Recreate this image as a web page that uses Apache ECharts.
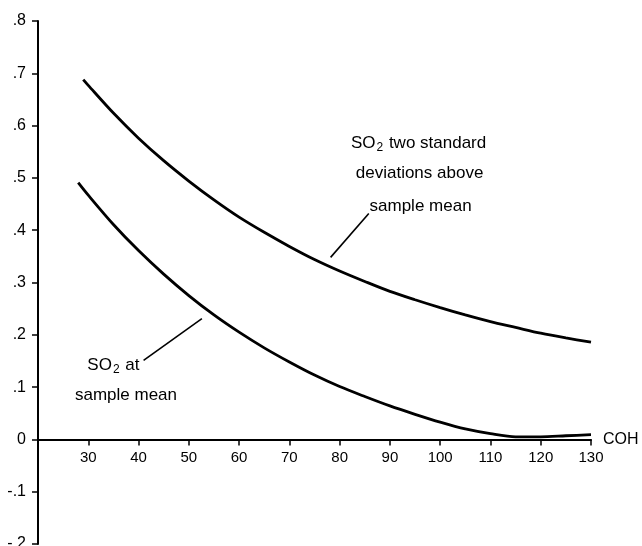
<!DOCTYPE html>
<html>
<head>
<meta charset="utf-8">
<script src="https://cdn.jsdelivr.net/npm/echarts@6/dist/echarts.min.js"></script>
<style>html,body{margin:0;padding:0;background:#fff}#c{width:642px;height:546px}</style>
</head>
<body>
<div id="c"></div>
<script>
// x tick labels (COH)
var xTicks = [30, 40, 50, 60, 70, 80, 90, 100, 110, 120, 130];
// SO2 two standard deviations above sample mean
var upperX = [29, 30, 35, 40, 45, 50, 55, 60, 65, 70, 75, 80, 85, 90, 95, 100, 105, 110, 115, 120, 125, 130];
var upperY = [0.688, 0.677, 0.624, 0.576, 0.533, 0.494, 0.458, 0.425, 0.396, 0.369, 0.344, 0.322, 0.302, 0.283, 0.267, 0.252, 0.238, 0.225, 0.214, 0.203, 0.194, 0.186];
// SO2 at sample mean
var lowerX = [28, 30, 35, 40, 45, 50, 55, 60, 65, 70, 75, 80, 85, 90, 95, 100, 105, 110, 115, 120, 125, 130];
var lowerY = [0.491, 0.467, 0.411, 0.361, 0.316, 0.275, 0.238, 0.205, 0.175, 0.148, 0.123, 0.101, 0.082, 0.064, 0.048, 0.033, 0.020, 0.011, 0.005, 0.005, 0.007, 0.009];
// leader lines [x, y]
var leaderUpper = [[85.8, 0.432], [78.2, 0.348]];
var leaderLower = [[52.6, 0.231], [41.0, 0.151]];
// annotation texts and anchors (data coords)
var upperLabelLines = ['{a|SO}{s|2}{a| two standard}', '{a|deviations above}', '{a|sample mean}'];
var upperLabelPos = [[95.7, 0.567], [95.9, 0.509], [96.1, 0.446]];
var lowerLabelLines = ['{a|SO}{s|2}{a| at}', '{a|sample mean}'];
var lowerLabelPos = [[35.0, 0.142], [37.5, 0.085]];

function zip(xs, ys) { return xs.map(function (x, i) { return [x, ys[i]]; }); }

var FONT = '"Liberation Sans", Arial, Helvetica, sans-serif';
var W = 642, H = 546, GRID_BOTTOM = 2;
var chart = echarts.init(document.getElementById('c'), null, {renderer: 'canvas'});
var lineStyle = {color: '#000', width: 2.8};
var option = {
  animation: false,
  backgroundColor: '#fff',
  grid: {left: 38, right: 51, top: 21, bottom: GRID_BOTTOM, containLabel: false, outerBoundsMode: 'none'},
  xAxis: {
    type: 'value', min: 20, max: 130, interval: 10, position: 'bottom', offset: 0,
    name: 'COH', nameLocation: 'end', nameGap: 12,
    nameTextStyle: {color: '#000', fontSize: 16, fontFamily: FONT, padding: [0, 0, 14, 0]},
    axisLine: {show: true, onZero: false, lineStyle: {color: '#000', width: 2}},
    axisTick: {show: true, length: 6, inside: false, customValues: xTicks, lineStyle: {color: '#000', width: 1.5}},
    axisLabel: {show: true, customValues: xTicks, color: '#000', fontSize: 15, fontFamily: FONT, margin: 11},
    splitLine: {show: false}
  },
  yAxis: {
    type: 'value', min: -0.2, max: 0.8, interval: 0.1,
    axisLine: {show: true, onZero: false, lineStyle: {color: '#000', width: 2}},
    axisTick: {show: true, length: 6, lineStyle: {color: '#000', width: 1.5}},
    axisLabel: {
      color: '#000', fontSize: 16, fontFamily: FONT, margin: 12,
      formatter: function (v) {
        var r = Math.round(v * 10) / 10;
        if (r === 0) return '0';
        return r.toFixed(1).replace('0.', '.');
      }
    },
    splitLine: {show: false}
  },
  series: [
    {type: 'line', data: zip(upperX, upperY), smooth: 0.3, showSymbol: false, symbol: 'none', lineStyle: lineStyle},
    {type: 'line', data: zip(lowerX, lowerY), smooth: 0.3, showSymbol: false, symbol: 'none', lineStyle: lineStyle},
    {type: 'line', data: leaderUpper, showSymbol: false, symbol: 'none', lineStyle: {color: '#000', width: 1.6}},
    {type: 'line', data: leaderLower, showSymbol: false, symbol: 'none', lineStyle: {color: '#000', width: 1.6}}
  ]
};
chart.setOption(option);

// move x axis (line, ticks, labels) up to y = 0
var zeroPx = chart.convertToPixel({yAxisIndex: 0}, 0);
chart.setOption({xAxis: {offset: zeroPx - (H - GRID_BOTTOM)}});

var rich = {
  a: {fontSize: 17, fontFamily: FONT, color: '#000'},
  s: {fontSize: 12, fontFamily: FONT, color: '#000', padding: [9, 1, 0, 1]}
};
var graphics = [];
function addLabels(lines, pos) {
  lines.forEach(function (t, i) {
    var p = chart.convertToPixel({gridIndex: 0}, pos[i]);
    graphics.push({
      type: 'text', x: p[0], y: p[1],
      style: {text: t, rich: rich, align: 'center', verticalAlign: 'middle', fill: '#000', font: '17px ' + FONT}
    });
  });
}
addLabels(upperLabelLines, upperLabelPos);
addLabels(lowerLabelLines, lowerLabelPos);
chart.setOption({graphic: graphics});
</script>
</body>
</html>
